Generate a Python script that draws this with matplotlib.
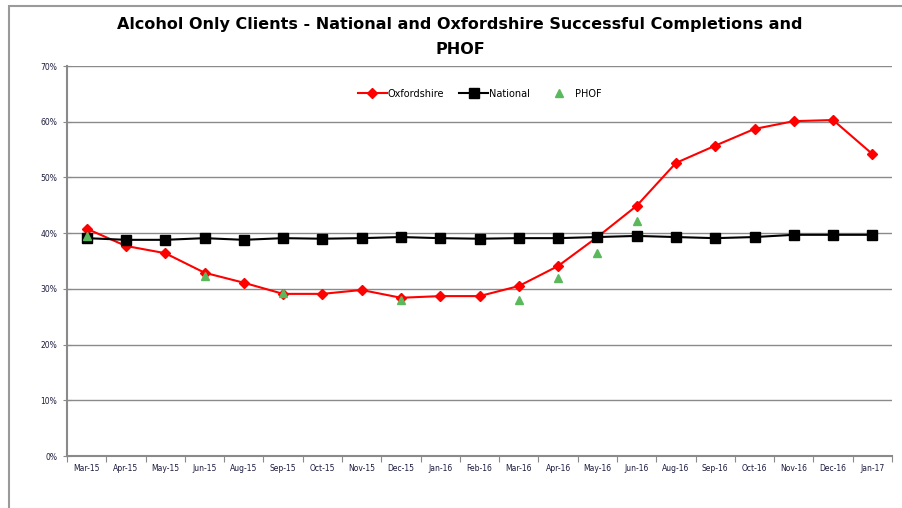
import matplotlib.pyplot as plt
from matplotlib.patches import Rectangle
from matplotlib.ticker import FuncFormatter

months = ['Mar-15', 'Apr-15', 'May-15', 'Jun-15', 'Aug-15', 'Sep-15', 'Oct-15',
          'Nov-15', 'Dec-15', 'Jan-16', 'Feb-16', 'Mar-16', 'Apr-16', 'May-16',
          'Jun-16', 'Aug-16', 'Sep-16', 'Oct-16', 'Nov-16', 'Dec-16', 'Jan-17']

oxfordshire = [40.8, 37.7, 36.4, 32.9, 31.1, 29.1, 29.1, 29.8, 28.4, 28.7, 28.7,
               30.5, 34.1, 39.3, 44.9, 52.6, 55.7, 58.7, 60.1, 60.3, 54.2]
national = [39.1, 38.8, 38.8, 39.1, 38.8, 39.1, 39.0, 39.1, 39.3, 39.1, 39.0,
            39.1, 39.1, 39.3, 39.5, 39.3, 39.1, 39.3, 39.7, 39.7, 39.7]
phof_months = ['Mar-15', 'Jun-15', 'Sep-15', 'Dec-15', 'Mar-16', 'Apr-16',
               'May-16', 'Jun-16']
phof = [39.5, 32.3, 29.3, 28.0, 28.0, 31.9, 36.4, 42.2]

x = list(range(len(months)))
phof_x = [months.index(m) for m in phof_months]

fig = plt.figure(figsize=(9.02, 5.08), dpi=100)
ax = fig.add_axes([67 / 902, 1 - 456 / 508, 825 / 902, 390 / 508])

# outer chart border (runs off the right and bottom edges)
fig.patches.append(Rectangle((9 / 902, -0.05), 1.0, 1 - 6 / 508 + 0.05,
                             transform=fig.transFigure, fill=False,
                             edgecolor='#9a9a9a', linewidth=1.5))

ax.plot(x, oxfordshire, color='#ff0000', linewidth=1.5, marker='D',
        markersize=5, label='Oxfordshire')
ax.plot(x, national, color='black', linewidth=1.5, marker='s',
        markersize=7, label='National')
ax.plot(phof_x, phof, linestyle='none', color='#5cb85c', marker='^',
        markersize=6, label='PHOF')

ax.set_xlim(-0.5, len(months) - 0.5)
ax.set_ylim(0, 70)
ax.set_yticks(range(0, 71, 10))
ax.yaxis.set_major_formatter(FuncFormatter(lambda v, p: f'{int(v)}%'))
ax.set_xticks([i - 0.5 for i in range(len(months) + 1)])
ax.set_xticklabels([])
ax.set_xticks(x, minor=True)
ax.set_xticklabels(months, minor=True)
ax.tick_params(axis='x', which='minor', length=0, pad=6, labelsize=5.5,
               labelcolor='#1c1c40')
ax.tick_params(axis='x', which='major', length=4, direction='out',
               color='#8a8a8a')
ax.tick_params(axis='y', length=6, direction='inout', color='#8a8a8a',
               labelsize=5.5, labelcolor='#1c1c40', pad=4)

ax.grid(axis='y', color='#8a8a8a', linewidth=1)
ax.set_axisbelow(True)
for s in ['top', 'right']:
    ax.spines[s].set_visible(False)
for s in ['left', 'bottom']:
    ax.spines[s].set_color('#8a8a8a')
    ax.spines[s].set_linewidth(1.5)

ax.legend(loc='upper center', bbox_to_anchor=(0.5, 0.964), ncol=3,
          frameon=False, fontsize=7, handlelength=3, columnspacing=1.5,
          handletextpad=0.1)

fig.text(0.51, 1 - 25 / 508,
         'Alcohol Only Clients - National and Oxfordshire Successful Completions and',
         ha='center', va='center', fontsize=11.5, fontweight='bold')
fig.text(0.51, 1 - 50 / 508, 'PHOF', ha='center', va='center',
         fontsize=11.5, fontweight='bold')

fig.savefig('out.png', dpi=100)
